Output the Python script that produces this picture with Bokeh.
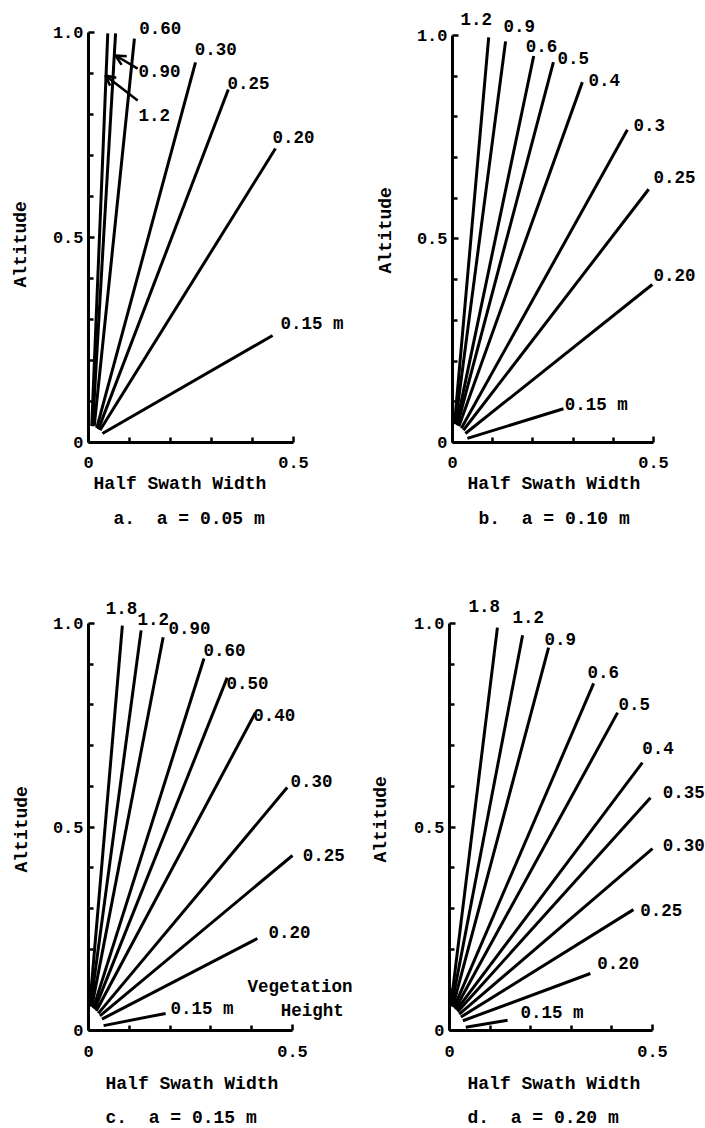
from bokeh.plotting import figure
from bokeh.models import ColumnDataSource, LabelSet, Range1d, FixedTicker, Arrow, OpenHead, Title
from bokeh.layouts import column, row
from bokeh.embed import file_html
from bokeh.resources import INLINE
from bokeh.core.properties import value

FONT = "Liberation Mono"
FS = "17.5px"      # line labels
FS_T = "17px"      # tick labels
FS_X = "18px"      # axis titles / captions

# ---------------- data ----------------
# panel a: a = 0.05 m
a_labels = ["1.2", "0.90", "0.60", "0.30", "0.25", "0.20", "0.15 m"]
a_x0 = [0.008, 0.010, 0.014, 0.020, 0.024, 0.028, 0.034]
a_y0 = [0.040, 0.040, 0.040, 0.035, 0.032, 0.030, 0.022]
a_x1 = [0.047, 0.066, 0.112, 0.261, 0.341, 0.456, 0.449]
a_y1 = [0.998, 0.998, 0.985, 0.927, 0.861, 0.717, 0.261]
a_lx = [0.122, 0.122, 0.124, 0.259, 0.339, 0.449, 0.468]
a_ly = [0.798, 0.905, 1.012, 0.959, 0.878, 0.744, 0.290]
a_arrow_xs = [0.120, 0.120]
a_arrow_ys = [0.834, 0.912]
a_arrow_xe = [0.041, 0.066]
a_arrow_ye = [0.895, 0.944]

# panel b: a = 0.10 m
b_labels = ["1.2", "0.9", "0.6", "0.5", "0.4", "0.3", "0.25", "0.20", "0.15 m"]
b_x0 = [0.005, 0.007, 0.010, 0.012, 0.016, 0.022, 0.027, 0.032, 0.037]
b_y0 = [0.045, 0.045, 0.045, 0.042, 0.040, 0.035, 0.030, 0.022, 0.010]
b_x1 = [0.090, 0.132, 0.202, 0.251, 0.323, 0.435, 0.488, 0.497, 0.276]
b_y1 = [0.995, 0.985, 0.949, 0.934, 0.885, 0.768, 0.622, 0.388, 0.083]
b_lx = [0.020, 0.127, 0.182, 0.261, 0.338, 0.450, 0.500, 0.500, 0.279]
b_ly = [1.041, 1.024, 0.973, 0.944, 0.890, 0.780, 0.651, 0.412, 0.093]

# panel c: a = 0.15 m
c_labels = ["1.8", "1.2", "0.90", "0.60", "0.50", "0.40", "0.30", "0.25", "0.20", "0.15 m"]
c_x0 = [0.003, 0.005, 0.008, 0.012, 0.015, 0.019, 0.024, 0.028, 0.033, 0.037]
c_y0 = [0.060, 0.060, 0.058, 0.055, 0.052, 0.048, 0.042, 0.036, 0.028, 0.012]
c_x1 = [0.083, 0.129, 0.183, 0.283, 0.340, 0.409, 0.487, 0.500, 0.414, 0.189]
c_y1 = [0.995, 0.983, 0.966, 0.914, 0.867, 0.781, 0.597, 0.430, 0.226, 0.042]
c_lx = [0.042, 0.120, 0.196, 0.282, 0.338, 0.404, 0.495, 0.525, 0.441, 0.201]
c_ly = [1.037, 1.012, 0.988, 0.934, 0.853, 0.774, 0.612, 0.430, 0.241, 0.054]
c_note = ["Vegetation", "Height"]
c_note_x = [0.390, 0.471]
c_note_y = [0.106, 0.049]

# panel d: a = 0.20 m
d_labels = ["1.8", "1.2", "0.9", "0.6", "0.5", "0.4", "0.35", "0.30", "0.25", "0.20", "0.15 m"]
d_x0 = [0.003, 0.005, 0.008, 0.011, 0.014, 0.017, 0.020, 0.024, 0.028, 0.033, 0.040]
d_y0 = [0.060, 0.060, 0.058, 0.056, 0.053, 0.050, 0.046, 0.040, 0.033, 0.024, 0.008]
d_x1 = [0.118, 0.180, 0.244, 0.355, 0.414, 0.475, 0.495, 0.500, 0.453, 0.347, 0.143]
d_y1 = [0.990, 0.971, 0.941, 0.853, 0.781, 0.658, 0.572, 0.447, 0.297, 0.140, 0.025]
d_lx = [0.047, 0.155, 0.234, 0.340, 0.416, 0.475, 0.525, 0.525, 0.470, 0.364, 0.175]
d_ly = [1.044, 1.015, 0.963, 0.882, 0.803, 0.695, 0.587, 0.457, 0.297, 0.165, 0.042]

NB = "\u00a0"
captions = ["a." + NB * 2 + "a = 0.05 m", "b." + NB * 2 + "a = 0.10 m",
            "c." + NB * 2 + "a = 0.15 m", "d." + NB * 2 + "a = 0.20 m"]
x_title = "Half Swath Width"
y_title = "Altitude"
x_ticks = [0, 0.5]
y_ticks = [0, 0.5, 1.0]
x_minor = [0.1, 0.2, 0.3, 0.4]
y_minor = [0.1, 0.2, 0.3, 0.4, 0.6, 0.7, 0.8, 0.9]
x_tick_text = {0: "0", 0.5: "0.5"}
y_tick_text = {0: "0", 0.5: "0.5", 1: "1.0"}


def txt_title(text, offset, standoff):
    return Title(text=text, align="left", offset=offset, standoff=standoff,
                 text_font=FONT, text_font_size=FS_X, text_font_style="bold",
                 text_color="black")


def make_panel(w, h, left, right, top, bottom, shift, sx, sy, x0, y0, x1, y1, lx, ly,
               labels, caption, xt_off, cap_off, alt_off, alt_stand, tick_stand,
               xt_stand, cap_stand):
    xe = (w - left - right) / sx
    ye = (h - top - bottom) / sy
    p = figure(width=w, height=h, x_range=Range1d(0, xe), y_range=Range1d(0, ye),
               output_backend="svg", toolbar_location=None,
               min_border_left=left, min_border_right=right,
               min_border_top=top, min_border_bottom=bottom)
    if shift:
        p.styles = {"margin-left": f"{-shift}px"}
    p.outline_line_color = None
    p.grid.visible = False
    # transparent fills so neighbouring (overlapping) panels do not hide each other
    p.background_fill_color = None
    p.border_fill_color = None

    for ax, ticks, minor, over in ((p.xaxis[0], x_ticks, x_minor, x_tick_text),
                                   (p.yaxis[0], y_ticks, y_minor, y_tick_text)):
        ax.ticker = FixedTicker(ticks=ticks, minor_ticks=minor)
        ax.major_label_overrides = over
        ax.major_tick_in = 6
        ax.major_tick_out = 0
        ax.minor_tick_in = 5
        ax.minor_tick_out = 0
        ax.axis_line_width = 3
        ax.major_tick_line_width = 2.5
        ax.minor_tick_line_width = 2.5
        ax.axis_line_color = "black"
        ax.major_label_text_font = FONT
        ax.major_label_text_font_size = FS_T
        ax.major_label_text_font_style = "bold"
        ax.major_label_text_color = "black"
    p.xaxis.bounds = (0, 0.5)
    p.yaxis.bounds = (0, 1.0)
    p.xaxis.major_label_standoff = tick_stand
    p.yaxis.major_label_standoff = 5

    p.add_layout(txt_title(x_title, xt_off, xt_stand), "below")
    p.add_layout(txt_title(caption, cap_off, cap_stand), "below")
    p.add_layout(txt_title(y_title, alt_off, alt_stand), "left")

    src = ColumnDataSource(dict(x0=x0, y0=y0, x1=x1, y1=y1))
    p.segment(x0="x0", y0="y0", x1="x1", y1="y1", source=src,
              line_color="black", line_width=3)

    lsrc = ColumnDataSource(dict(x=lx, y=ly, t=labels))
    p.add_layout(LabelSet(x="x", y="y", text="t", source=lsrc,
                          text_font=value(FONT), text_font_size=FS,
                          text_font_style="bold", text_color="black",
                          text_align="left", text_baseline="middle"))
    return p


# frame left edges in page: a 88, b 452, c 88, d 449
pa = make_panel(376, 540, 104, 5, 5, 98, 16, 410, 410, a_x0, a_y0, a_x1, a_y1, a_lx, a_ly,
                a_labels, captions[0], 5, 25, 155, 38, 14, 2, 24)
for xs, ys, xe_, ye_ in zip(a_arrow_xs, a_arrow_ys, a_arrow_xe, a_arrow_ye):
    pa.add_layout(Arrow(end=OpenHead(size=10, line_width=2.5, line_color="black"),
                        x_start=xs, y_start=ys, x_end=xe_, y_end=ye_,
                        line_width=2.5, line_color="black"))

pb = make_panel(353, 540, 100, 2, 2, 98, 8, 402, 410, b_x0, b_y0, b_x1, b_y1, b_lx, b_ly,
                b_labels, captions[1], 15, 26, 169, 36, 14, 2, 24)

pc = make_panel(376, 588, 104, 0, 40, 98, 16, 408, 407, c_x0, c_y0, c_x1, c_y1, c_lx, c_ly,
                c_labels, captions[2], 17, 17, 158, 36, 15, 24, 0)
nsrc = ColumnDataSource(dict(x=c_note_x, y=c_note_y, t=c_note))
pc.add_layout(LabelSet(x="x", y="y", text="t", source=nsrc,
                       text_font=value(FONT), text_font_size=FS,
                       text_font_style="bold", text_color="black",
                       text_align="left", text_baseline="middle"))

pd_ = make_panel(359, 588, 103, 0, 40, 98, 14, 406, 407, d_x0, d_y0, d_x1, d_y1, d_lx, d_ly,
                 d_labels, captions[3], 18, 18, 168, 40, 15, 24, 0)

layout = column(row(pa, pb), row(pc, pd_))
open("out.html", "w").write(file_html(layout, INLINE))
